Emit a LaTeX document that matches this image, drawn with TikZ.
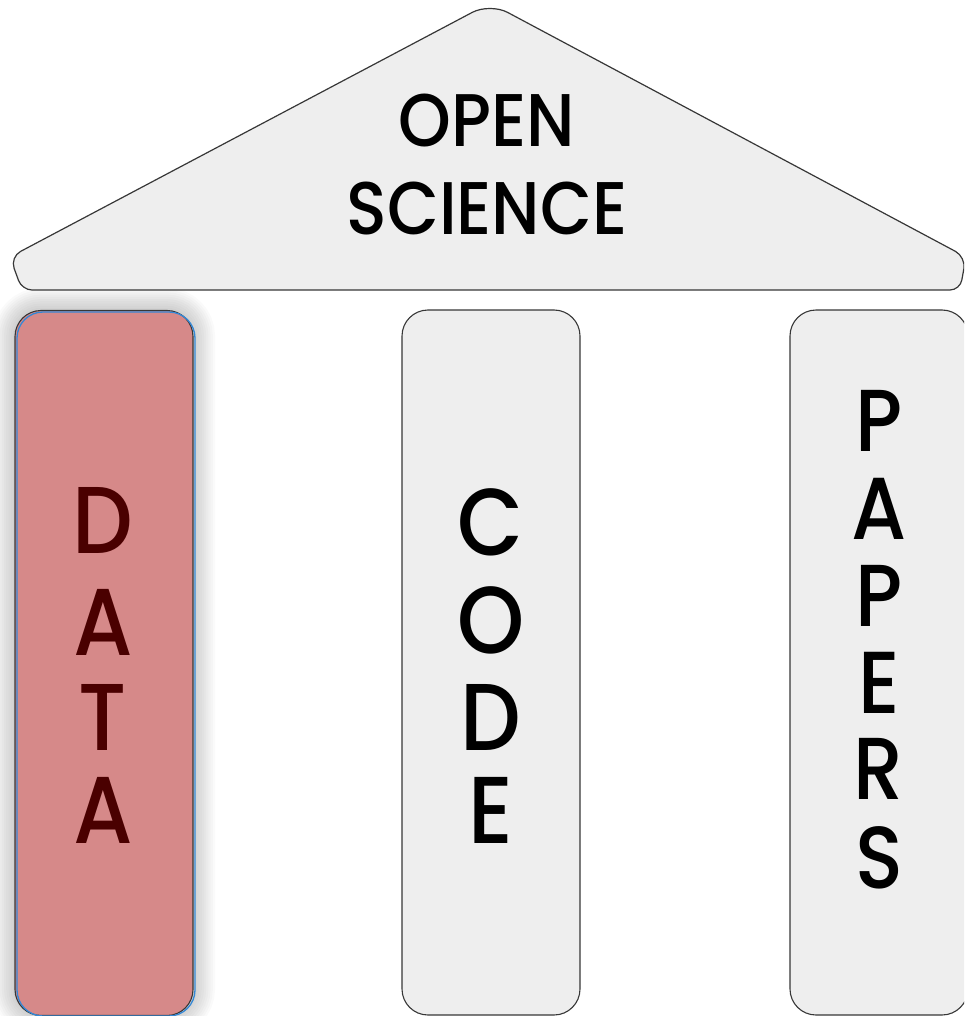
\documentclass[tikz,border=0pt]{standalone}
\usepackage{fontspec}
\newfontfamily\pop{Poppins Medium}[FakeStretch=0.9]
\definecolor{pillargray}{RGB}{238,238,238}
\definecolor{datafill}{RGB}{214,137,137}
\definecolor{datatext}{RGB}{74,0,0}
\definecolor{edgegray}{RGB}{55,55,55}
\definecolor{datablue}{RGB}{52,136,214}
\begin{document}
\begin{tikzpicture}[x=1pt,y=-1pt,
  pillar/.style={draw=edgegray, line width=1.1pt, fill=pillargray, rounded corners=26pt,
    minimum width=178pt, minimum height=705pt, inner sep=0pt},
  roofstyle/.style={draw=edgegray, line width=1.2pt, fill=pillargray},
  shadowline/.style={draw=black, opacity=0.02, rounded corners=26pt},
  letter/.style={anchor=base, inner sep=0pt, font=\pop\fontsize{95pt}{95pt}\selectfont},
  pletter/.style={anchor=base, inner sep=0pt, font=\pop\fontsize{88pt}{88pt}\selectfont},
  title/.style={anchor=base, inner sep=0pt, font=\pop\fontsize{74.6pt}{74.6pt}\selectfont}]
\useasboundingbox (0,0) rectangle (964,1016);
\clip (0,0) rectangle (964,1016);
% shadow of the DATA pillar
\foreach \i in {1,...,10}
  \draw[shadowline, line width=4.4pt*\i] (15,310) rectangle (193,1015);
% roof
\draw[roofstyle] (490,290) [rounded corners=10pt] -- (22,290) [rounded corners=12pt] -- (10,257)
  [rounded corners=20pt] -- (490,3) [rounded corners=12pt] -- (966,257)
  [rounded corners=10pt] -- (960,290) [sharp corners] -- cycle;
\node[title] (open) at (487,147) {OPEN};
\node[title] (science) at (487,235) {SCIENCE};
% pillars
\node[pillar, fill=datafill] (data) at (104,663) {};
\draw[datablue, line width=1.3pt, rounded corners=26pt] (17,312) rectangle (195,1016);
\node[pillar] (code) at (491,662.5) {};
\node[pillar] (papers) at (879,662.5) {};
% DATA letters
\foreach \l/\y [count=\k] in {D/553, A/655, T/750, A/843}
  \node[letter, text=datatext] (data\k) at (103,\y) {\l};
% CODE letters
\foreach \l/\y [count=\k] in {C/555, O/653, D/750, E/843}
  \node[letter] (code\k) at (491,\y) {\l};
% PAPERS letters
\foreach \l/\y [count=\k] in {P/451, A/539, P/626, E/713, R/799, S/888}
  \node[pletter] (papers\k) at (879,\y) {\l};
\end{tikzpicture}
\end{document}
